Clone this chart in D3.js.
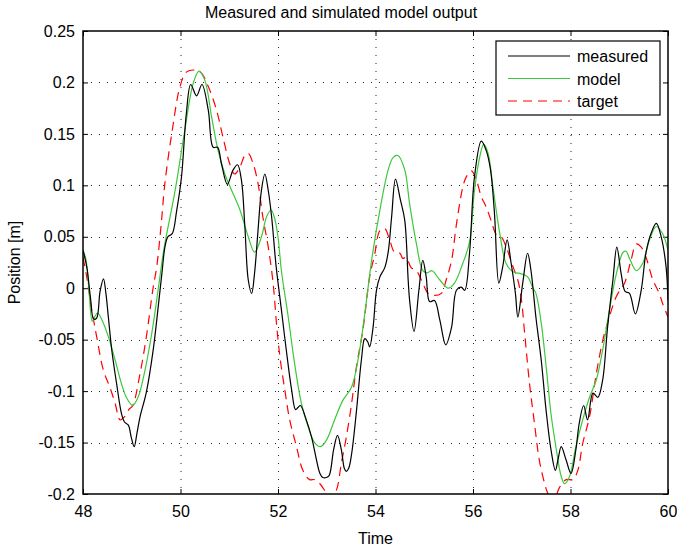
<!DOCTYPE html>
<html>
<head>
<meta charset="utf-8">
<script src="https://cdn.jsdelivr.net/npm/d3@7"></script>
<style>
  body { margin: 0; background: #fff; }
  text { font-family: "Liberation Sans", Arial, sans-serif; }
</style>
</head>
<body>
<div id="chart"></div>
<script>
// measured position [time, value]
var measured = [
  [48.00, 0.037], [48.08, 0.020], [48.15, -0.008], [48.22, -0.030], [48.28, -0.029],
  [48.35, -0.003], [48.42, 0.009], [48.47, -0.005], [48.52, -0.028], [48.59, -0.060],
  [48.69, -0.093], [48.79, -0.122], [48.85, -0.130], [48.93, -0.133], [48.99, -0.145],
  [49.05, -0.154], [49.11, -0.140], [49.17, -0.125], [49.30, -0.101], [49.44, -0.060],
  [49.55, -0.015], [49.62, 0.015], [49.68, 0.040], [49.74, 0.050], [49.83, 0.053],
  [49.92, 0.075], [50.02, 0.108], [50.12, 0.170], [50.21, 0.198], [50.33, 0.187],
  [50.44, 0.198], [50.57, 0.173], [50.67, 0.137], [50.76, 0.137], [50.84, 0.121],
  [50.96, 0.101], [51.08, 0.115], [51.17, 0.120], [51.25, 0.105], [51.32, 0.060],
  [51.39, 0.008], [51.46, -0.005], [51.52, 0.015], [51.59, 0.056], [51.66, 0.095],
  [51.73, 0.111], [51.80, 0.095], [51.87, 0.069], [51.96, 0.022], [52.07, -0.021],
  [52.17, -0.060], [52.28, -0.099], [52.36, -0.118], [52.41, -0.116], [52.46, -0.114],
  [52.58, -0.128], [52.69, -0.145], [52.79, -0.167], [52.86, -0.180], [52.92, -0.184],
  [52.99, -0.184], [53.05, -0.182], [53.14, -0.157], [53.22, -0.143], [53.30, -0.157],
  [53.36, -0.175], [53.40, -0.178], [53.45, -0.175], [53.51, -0.161], [53.61, -0.119],
  [53.71, -0.070], [53.78, -0.049], [53.84, -0.052], [53.88, -0.057], [53.95, -0.038],
  [54.02, -0.002], [54.09, 0.011], [54.19, 0.020], [54.26, 0.035], [54.33, 0.069],
  [54.41, 0.106], [54.51, 0.086], [54.60, 0.066], [54.67, 0.008], [54.70, -0.012],
  [54.79, -0.042], [54.89, -0.002], [54.97, 0.027], [55.04, 0.011], [55.11, -0.013],
  [55.21, -0.012], [55.32, -0.031], [55.44, -0.055], [55.56, -0.038], [55.66, -0.002],
  [55.76, 0.001], [55.83, -0.002], [55.93, 0.035], [56.03, 0.108], [56.17, 0.143],
  [56.27, 0.134], [56.36, 0.115], [56.44, 0.073], [56.53, 0.005], [56.61, 0.021],
  [56.70, 0.047], [56.78, 0.025], [56.87, -0.005], [56.92, -0.028], [57.02, 0.005],
  [57.12, 0.034], [57.19, 0.017], [57.29, -0.028], [57.40, -0.070], [57.50, -0.119],
  [57.60, -0.157], [57.69, -0.177], [57.75, -0.165], [57.81, -0.154], [57.91, -0.167],
  [58.01, -0.180], [58.11, -0.157], [58.18, -0.131], [58.27, -0.114], [58.35, -0.128],
  [58.46, -0.102], [58.56, -0.106], [58.66, -0.089], [58.76, -0.038], [58.87, 0.008],
  [58.95, 0.040], [59.04, 0.014], [59.12, -0.003], [59.21, -0.005], [59.33, -0.025],
  [59.45, -0.002], [59.55, 0.035], [59.65, 0.053], [59.76, 0.063], [59.86, 0.050],
  [59.96, 0.021], [60.00, -0.012]
];

// simulated model output
var model = [
  [48.00, 0.037], [48.06, 0.028], [48.12, 0.000], [48.19, -0.032], [48.24, -0.028],
  [48.30, -0.024], [48.40, -0.032], [48.52, -0.047], [48.66, -0.070], [48.79, -0.093],
  [48.90, -0.107], [49.02, -0.114], [49.13, -0.106], [49.27, -0.080], [49.41, -0.044],
  [49.54, -0.002], [49.66, 0.038], [49.89, 0.095], [50.09, 0.154], [50.26, 0.199],
  [50.38, 0.211], [50.50, 0.202], [50.64, 0.166], [50.77, 0.134], [50.91, 0.111],
  [51.05, 0.095], [51.22, 0.076], [51.39, 0.050], [51.52, 0.035], [51.66, 0.050],
  [51.77, 0.070], [51.86, 0.076], [51.93, 0.068], [52.00, 0.050], [52.07, 0.017],
  [52.21, -0.028], [52.34, -0.073], [52.48, -0.112], [52.62, -0.135], [52.75, -0.150],
  [52.87, -0.154], [52.99, -0.148], [53.16, -0.128], [53.33, -0.109], [53.51, -0.096],
  [53.64, -0.070], [53.78, -0.025], [53.92, 0.027], [54.09, 0.076], [54.26, 0.115],
  [54.36, 0.127], [54.46, 0.129], [54.60, 0.115], [54.70, 0.082], [54.84, 0.043],
  [54.97, 0.017], [55.06, 0.015], [55.16, 0.017], [55.32, 0.008], [55.49, 0.000],
  [55.62, 0.005], [55.79, 0.024], [55.93, 0.045], [56.03, 0.095], [56.14, 0.128],
  [56.22, 0.140], [56.31, 0.131], [56.41, 0.098], [56.55, 0.053], [56.68, 0.024],
  [56.82, 0.016], [56.99, 0.014], [57.12, 0.011], [57.23, 0.000], [57.29, -0.005],
  [57.40, -0.034], [57.50, -0.076], [57.60, -0.122], [57.71, -0.157], [57.81, -0.183],
  [57.88, -0.190], [57.98, -0.183], [58.11, -0.154], [58.25, -0.128], [58.39, -0.106],
  [58.53, -0.089], [58.66, -0.060], [58.80, -0.021], [58.94, 0.014], [59.08, 0.035],
  [59.14, 0.036], [59.21, 0.029], [59.35, 0.017], [59.48, 0.024], [59.62, 0.047],
  [59.76, 0.060], [59.89, 0.053], [60.00, 0.037]
];

// reference / target position
var target = [
  [48.00, 0.030], [48.08, 0.010], [48.18, -0.021], [48.28, -0.047], [48.42, -0.080],
  [48.55, -0.096], [48.66, -0.112], [48.76, -0.128], [48.85, -0.125], [48.94, -0.118],
  [49.02, -0.114], [49.17, -0.083], [49.30, -0.047], [49.44, 0.001], [49.51, 0.020],
  [49.60, 0.060], [49.68, 0.102], [49.82, 0.150], [49.99, 0.196], [50.12, 0.210],
  [50.30, 0.212], [50.43, 0.209], [50.57, 0.196], [50.74, 0.173], [50.87, 0.147],
  [51.01, 0.121], [51.11, 0.111], [51.22, 0.118], [51.32, 0.129], [51.39, 0.131],
  [51.49, 0.121], [51.59, 0.102], [51.69, 0.069], [51.80, 0.040], [51.90, 0.005],
  [51.97, -0.035], [52.04, -0.067], [52.14, -0.099], [52.24, -0.128], [52.38, -0.154],
  [52.51, -0.177], [52.65, -0.186], [52.75, -0.186], [52.86, -0.190], [52.99, -0.199],
  [53.08, -0.205], [53.20, -0.196], [53.30, -0.170], [53.40, -0.145], [53.51, -0.112],
  [53.61, -0.076], [53.74, -0.041], [53.88, 0.011], [53.98, 0.032], [54.09, 0.056],
  [54.19, 0.058], [54.29, 0.047], [54.39, 0.035], [54.50, 0.034], [54.56, 0.029],
  [54.63, 0.030], [54.73, 0.020], [54.84, 0.017], [54.97, 0.005], [55.08, -0.005],
  [55.21, -0.007], [55.35, -0.005], [55.45, 0.008], [55.56, 0.027], [55.66, 0.062],
  [55.79, 0.098], [55.86, 0.108], [55.97, 0.114], [56.07, 0.105], [56.17, 0.089],
  [56.27, 0.079], [56.37, 0.066], [56.48, 0.052], [56.58, 0.050], [56.68, 0.040],
  [56.82, 0.021], [56.92, 0.008], [56.99, -0.010], [57.06, -0.044], [57.16, -0.093],
  [57.26, -0.131], [57.36, -0.167], [57.47, -0.190], [57.53, -0.199], [57.64, -0.210],
  [57.77, -0.194], [57.91, -0.186], [58.05, -0.186], [58.15, -0.177], [58.25, -0.151],
  [58.39, -0.125], [58.53, -0.083], [58.66, -0.051], [58.76, -0.034], [58.94, -0.008],
  [59.11, 0.005], [59.24, 0.027], [59.35, 0.043], [59.45, 0.040], [59.55, 0.030],
  [59.69, 0.008], [59.82, -0.005], [59.89, -0.015], [60.00, -0.028]
];

var xTicks = [48, 50, 52, 54, 56, 58, 60];
var yTicks = [-0.2, -0.15, -0.1, -0.05, 0, 0.05, 0.1, 0.15, 0.2, 0.25];
var seriesNames = ["measured", "model", "target"];

var margin = {top: 31, right: 9, bottom: 56, left: 83},
    width = 677 - margin.left - margin.right,
    height = 550 - margin.top - margin.bottom;

var svg = d3.select("#chart")
  .append("svg")
    .attr("width", 677)
    .attr("height", 550);

var g = svg.append("g")
    .attr("transform", "translate(" + margin.left + "," + margin.top + ")");

var x = d3.scaleLinear().domain([48, 60]).range([0, width]);
var y = d3.scaleLinear().domain([-0.2, 0.25]).range([height, 0]);

g.append("defs").append("clipPath").attr("id", "clip")
  .append("rect").attr("width", width).attr("height", height);

// dotted grid
g.selectAll(".vgrid")
  .data(xTicks.slice(1, -1))
  .enter().append("line")
    .attr("x1", function(d) { return x(d) + 0.5; })
    .attr("x2", function(d) { return x(d) + 0.5; })
    .attr("y1", 0).attr("y2", height)
    .attr("stroke", "#222").attr("stroke-dasharray", "1,7");

g.selectAll(".hgrid")
  .data(yTicks.slice(1, -1))
  .enter().append("line")
    .attr("y1", function(d) { return Math.round(y(d)) + 0.5; })
    .attr("y2", function(d) { return Math.round(y(d)) + 0.5; })
    .attr("x1", 0).attr("x2", width)
    .attr("stroke", "#222").attr("stroke-dasharray", "1,7");

var fmt = function(d) { return d === 0 ? "0" : String(+d.toFixed(2)); };

// axes, ticks pointing inward on all four sides
g.append("g")
    .attr("transform", "translate(0," + height + ")")
    .call(d3.axisBottom(x).tickValues(xTicks).tickSize(-5).tickPadding(12).tickFormat(fmt));
g.append("g")
    .call(d3.axisLeft(y).tickValues(yTicks).tickSize(-5).tickPadding(8).tickFormat(fmt));
g.append("g")
    .call(d3.axisTop(x).tickValues(xTicks).tickSize(-5).tickFormat(""));
g.append("g")
    .attr("transform", "translate(" + width + ",0)")
    .call(d3.axisRight(y).tickValues(yTicks).tickSize(-5).tickFormat(""));

g.selectAll(".domain").remove();
g.selectAll(".tick line").attr("stroke", "#000");
g.selectAll(".tick text")
    .attr("fill", "#000")
    .style("font-size", "16px");

var line = d3.line()
    .x(function(d) { return x(d[0]); })
    .y(function(d) { return y(d[1]); })
    .curve(d3.curveCatmullRom.alpha(0.5));

var plot = g.append("g").attr("clip-path", "url(#clip)");

plot.append("path").datum(target)
    .attr("d", line).attr("fill", "none")
    .attr("stroke", "#ff0000").attr("stroke-width", 1.2)
    .attr("stroke-dasharray", "9,6");

plot.append("path").datum(model)
    .attr("d", line).attr("fill", "none")
    .attr("stroke", "#3cc83c").attr("stroke-width", 1.2);

plot.append("path").datum(measured)
    .attr("d", line).attr("fill", "none")
    .attr("stroke", "#000").attr("stroke-width", 1.2);

// box
g.append("rect")
    .attr("width", width).attr("height", height)
    .attr("fill", "none").attr("stroke", "#000").attr("stroke-width", 1.5);

// legend
var legend = svg.append("g").attr("transform", "translate(496,41)");
legend.append("rect")
    .attr("width", 164).attr("height", 74)
    .attr("fill", "#fff").attr("stroke", "#000").attr("stroke-width", 1.2);

var legColors = ["#000", "#3cc83c", "#ff0000"];
var legDash = [null, null, "9,6"];
seriesNames.forEach(function(name, i) {
    var yy = 15 + i * 22.5;
    legend.append("line")
        .attr("x1", 12).attr("x2", 74)
        .attr("y1", yy).attr("y2", yy)
        .attr("stroke", legColors[i]).attr("stroke-width", 1.2)
        .attr("stroke-dasharray", legDash[i]);
    legend.append("text")
        .attr("x", 81).attr("y", yy + 6)
        .style("font-size", "16px")
        .text(name);
});

// titles
svg.append("text")
    .attr("x", 341).attr("y", 18)
    .attr("text-anchor", "middle")
    .style("font-size", "16px")
    .text("Measured and simulated model output");

svg.append("text")
    .attr("x", margin.left + width / 2).attr("y", 544)
    .attr("text-anchor", "middle")
    .style("font-size", "16px")
    .text("Time");

svg.append("text")
    .attr("transform", "translate(20," + (margin.top + height / 2) + ") rotate(-90)")
    .attr("text-anchor", "middle")
    .style("font-size", "16px")
    .text("Position [m]");
</script>
</body>
</html>
